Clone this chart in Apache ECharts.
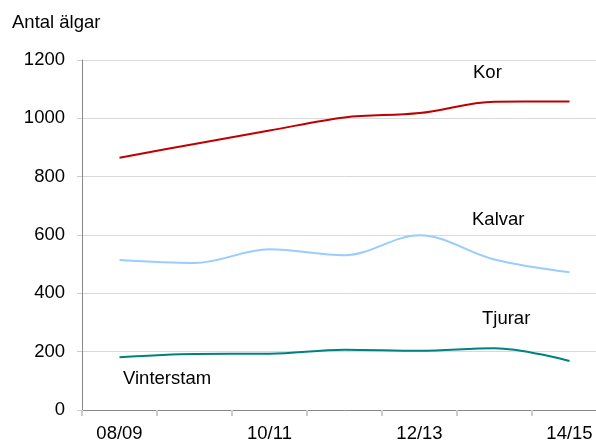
<!DOCTYPE html>
<html>
<head>
<meta charset="utf-8">
<script src="https://cdn.jsdelivr.net/npm/echarts@6/dist/echarts.min.js"></script>
<style>
html,body{margin:0;padding:0;background:#fff;overflow:hidden;width:596px;height:443px;}
#c{width:607px;height:443px;}
</style>
</head>
<body>
<div id="c"></div>
<script>
var categories = ['08/09','09/10','10/11','11/12','12/13','13/14','14/15'];
var kor = [865, 912, 958, 1003, 1018, 1057, 1058];
var kalvar = [514, 504, 551, 531, 599, 516, 472];
var tjurar = [181, 192, 193, 207, 203, 212, 168];
var yTicks = [0, 200, 400, 600, 800, 1000, 1200];
var seriesNames = ['Kor', 'Kalvar', 'Tjurar', 'Vinterstam'];

var font = '"Liberation Sans", Arial, sans-serif';
var fs = 18.5;
var chart = echarts.init(document.getElementById('c'));
function lineSeries(name, data, color) {
  return {
    name: name, type: 'line', data: data, smooth: 0.35,
    symbol: 'none', lineStyle: {color: color, width: 2}, itemStyle: {color: color}
  };
}
function txt(s, x, y) {
  return {type: 'text', left: x, top: y, style: {text: s, fill: '#000', font: fs + 'px ' + font}};
}
chart.setOption({
  animation: false,
  backgroundColor: '#fff',
  grid: {left: 82, right: 0, top: 60, bottom: 33, containLabel: false},
  xAxis: {
    type: 'category', data: categories, boundaryGap: true,
    axisLine: {lineStyle: {color: '#888', width: 1}},
    axisTick: {show: true, interval: 0, length: 6, lineStyle: {color: '#ccc', width: 2}},
    axisLabel: {interval: 1, color: '#000', fontSize: fs, fontFamily: font, margin: 14}
  },
  yAxis: {
    type: 'value', min: yTicks[0], max: yTicks[yTicks.length - 1], interval: 200,
    axisLine: {show: true, lineStyle: {color: '#888', width: 1}},
    axisTick: {show: true, length: 5, lineStyle: {color: '#ccc'}},
    axisLabel: {color: '#000', fontSize: fs, fontFamily: font, margin: 17,
      formatter: function (v) { return String(v); }},
    splitLine: {lineStyle: {color: '#d9d9d9', width: 1}}
  },
  graphic: [
    txt('Antal älgar', 12, 13),
    txt(seriesNames[0], 473, 63.5),
    txt(seriesNames[1], 472, 210.5),
    txt(seriesNames[2], 482, 309),
    txt(seriesNames[3], 123, 369)
  ],
  series: [
    lineSeries(seriesNames[0], kor, '#c00000'),
    lineSeries(seriesNames[1], kalvar, '#99ccff'),
    lineSeries(seriesNames[2], tjurar, '#008080')
  ]
});
</script>
</body>
</html>
